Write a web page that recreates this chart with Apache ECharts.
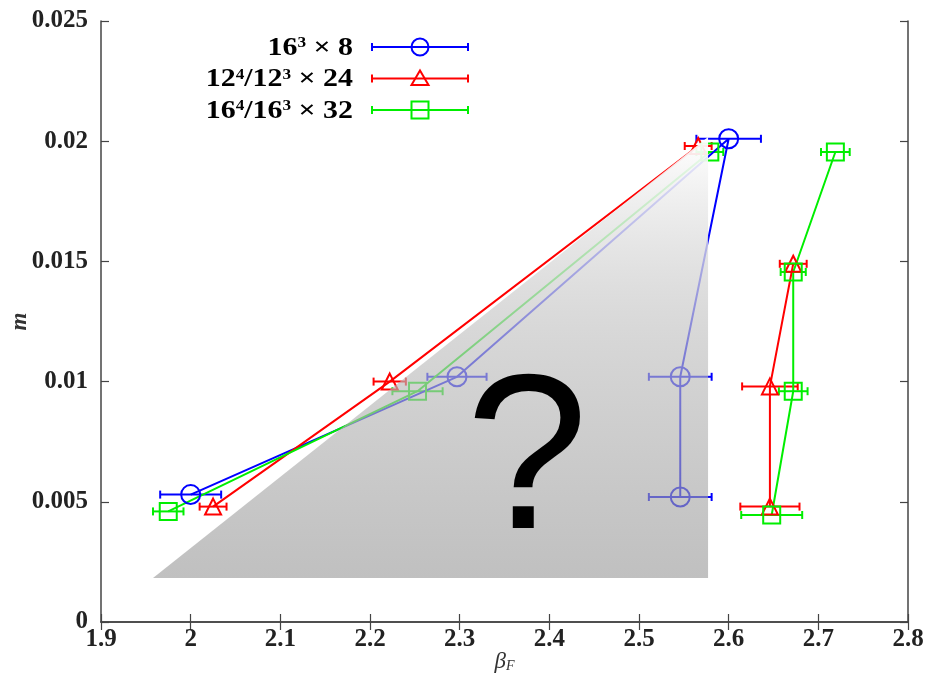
<!DOCTYPE html>
<html>
<head>
<meta charset="utf-8">
<script src="https://cdn.jsdelivr.net/npm/echarts@6/dist/echarts.min.js"></script>
<style>
  html, body { margin: 0; padding: 0; background: #fff; }
  #chart { width: 929px; height: 675px; }
</style>
</head>
<body>
<div id="chart"></div>
<script>
// Transition points m(beta_F) for three lattice sizes, with x-errors on beta_F.
const blueBeta = [2.0, 2.297, 2.6, 2.546, 2.546];
const blueM    = [0.0053, 0.0102, 0.0201, 0.0102, 0.0052];
const blueErr  = [0.034, 0.033, 0.036, 0.035, 0.035];

const redLeftBeta  = [2.025, 2.222, 2.566];
const redLeftM     = [0.0048, 0.0100, 0.0198];
const redLeftErr   = [0.015, 0.018, 0.015];
const redRightBeta = [2.672, 2.646, 2.646];
const redRightM    = [0.0149, 0.0098, 0.0048];
const redRightErr  = [0.015, 0.031, 0.033];

const greenLeftBeta  = [1.975, 2.253, 2.579];
const greenLeftM     = [0.0046, 0.0096, 0.01955];
const greenLeftErr   = [0.017, 0.028, 0.015];
const greenRightBeta = [2.719, 2.672, 2.672, 2.648];
const greenRightM    = [0.01955, 0.01456, 0.0096, 0.00445];
const greenRightErr  = [0.016, 0.014, 0.016, 0.034];

const xRange = [1.9, 2.8, 0.1];
const yRange = [0, 0.025, 0.005];

const BLUE = '#0000ff', RED = '#ff0000', GREEN = '#00ee00';
const SERIF = '"Liberation Serif", "DejaVu Serif", serif';

function pts(b, m) { return b.map((v, i) => [v, m[i]]); }
function errPts(b, m, e) { return b.map((v, i) => [v, m[i], v - e[i], v + e[i]]); }

function errorSeries(data, color) {
  return {
    type: 'custom',
    data: data,
    z: 3,
    encode: { x: [0, 2, 3], y: 1 },
    renderItem: function (params, api) {
      const y = api.value(1);
      const lo = api.coord([api.value(2), y]);
      const hi = api.coord([api.value(3), y]);
      const cap = 4;
      const style = { stroke: color, lineWidth: 2 };
      return {
        type: 'group',
        children: [
          { type: 'line', shape: { x1: lo[0], y1: lo[1], x2: hi[0], y2: hi[1] }, style },
          { type: 'line', shape: { x1: lo[0], y1: lo[1] - cap, x2: lo[0], y2: lo[1] + cap }, style },
          { type: 'line', shape: { x1: hi[0], y1: hi[1] - cap, x2: hi[0], y2: hi[1] + cap }, style }
        ]
      };
    }
  };
}

function lineSeries(data, color, symbol, size) {
  return {
    type: 'line',
    data: data,
    z: 4,
    symbol: symbol,
    symbolSize: size,
    showAllSymbol: true,
    lineStyle: { color: color, width: 2 },
    itemStyle: { color: 'rgba(0,0,0,0)', borderColor: color, borderWidth: 2 },
    emphasis: { disabled: true },
    animation: false
  };
}

const axisLabelStyle = { fontFamily: SERIF, fontWeight: 'bold', fontSize: 25, color: '#222' };
const frame = { lineStyle: { color: '#444', width: 1.5 } };
const innerTick = { show: true, inside: true, length: 8, lineStyle: { color: '#444', width: 1.2 } };

const chart = echarts.init(document.getElementById('chart'), null, { renderer: 'canvas' });

chart.setOption({
  animation: false,
  backgroundColor: '#fff',
  grid: { left: 101, right: 21, top: 21, bottom: 53, containLabel: false, outerBoundsMode: 'none' },
  xAxis: [
    {
      type: 'value', min: xRange[0], max: xRange[1], interval: xRange[2],
      axisLine: frame,
      axisTick: innerTick,
      splitLine: { show: false },
      axisLabel: Object.assign({ margin: 5 }, axisLabelStyle)
    },
    {
      type: 'value', position: 'top', min: xRange[0], max: xRange[1], interval: xRange[2],
      axisLine: frame,
      axisTick: innerTick,
      axisLabel: { show: false }, splitLine: { show: false }
    }
  ],
  yAxis: [
    {
      type: 'value', min: yRange[0], max: yRange[1], interval: yRange[2],
      axisLine: Object.assign({ show: true }, frame),
      axisTick: innerTick,
      splitLine: { show: false },
      axisLabel: Object.assign({ margin: 13 }, axisLabelStyle)
    },
    {
      type: 'value', position: 'right', min: yRange[0], max: yRange[1], interval: yRange[2],
      axisLine: Object.assign({ show: true }, frame),
      axisTick: innerTick,
      axisLabel: { show: false }, splitLine: { show: false }
    }
  ],
  series: [
    errorSeries(errPts(blueBeta, blueM, blueErr), BLUE),
    lineSeries(pts(blueBeta, blueM), BLUE, 'circle', 19),
    errorSeries(errPts(redLeftBeta, redLeftM, redLeftErr), RED),
    errorSeries(errPts(redRightBeta, redRightM, redRightErr), RED),
    lineSeries(pts(redLeftBeta, redLeftM), RED, 'triangle', 16),
    lineSeries(pts(redRightBeta, redRightM), RED, 'triangle', 16),
    errorSeries(errPts(greenLeftBeta, greenLeftM, greenLeftErr), GREEN),
    errorSeries(errPts(greenRightBeta, greenRightM, greenRightErr), GREEN),
    lineSeries(pts(greenLeftBeta, greenLeftM), GREEN, 'rect', 17),
    lineSeries(pts(greenRightBeta, greenRightM), GREEN, 'rect', 17)
  ]
});

const graphics = [];

// Axis titles, centred on the plot frame.
const gridRect = chart.getModel().getComponent('grid').coordinateSystem.getRect();
graphics.push({
  type: 'text', z: 200, x: gridRect.x + gridRect.width / 2, y: 660,
  style: {
    text: '{b|β}{s|F}', align: 'center', verticalAlign: 'middle',
    rich: {
      b: { fontFamily: SERIF, fontStyle: 'italic', fontSize: 23, fill: '#333', lineHeight: 26, verticalAlign: 'bottom' },
      s: { fontFamily: SERIF, fontStyle: 'italic', fontSize: 14, fill: '#333', lineHeight: 26, verticalAlign: 'bottom', padding: [0, 0, 0, 0] }
    }
  }
});
graphics.push({
  type: 'text', z: 200, x: 20, y: gridRect.y + gridRect.height / 2, rotation: Math.PI / 2,
  style: {
    text: 'm', align: 'center', verticalAlign: 'middle',
    fontFamily: SERIF, fontStyle: 'italic', fontWeight: 'bold', fontSize: 23, fill: '#333'
  }
});

// Key: right-aligned labels with an error-bar sample to their right.
const keyRows = [
  { text: '{b|16}{s|3}{b| × 8}', color: BLUE, symbol: 'circle' },
  { text: '{b|12}{s|4}{b|/12}{s|3}{b| × 24}', color: RED, symbol: 'triangle' },
  { text: '{b|16}{s|4}{b|/16}{s|3}{b| × 32}', color: GREEN, symbol: 'rect' }
];
const keyRich = {
  b: { fontFamily: SERIF, fontWeight: 'bold', fontSize: 26, color: '#222', lineHeight: 28, verticalAlign: 'bottom' },
  s: { fontFamily: SERIF, fontWeight: 'bold', fontSize: 15, color: '#222', lineHeight: 28, verticalAlign: 'bottom', padding: [0, 0, 10, 0] }
};

keyRows.forEach((row, i) => {
  const y = 47 + i * 31.5;
  graphics.push({
    type: 'text', x: 353, y: y, z: 200, scaleX: 1.15, originX: 0, originY: 0,
    style: { text: row.text, rich: keyRich, align: 'right', verticalAlign: 'middle' }
  });
  const st = { stroke: row.color, lineWidth: 2, fill: null };
  graphics.push({ type: 'line', z: 200, shape: { x1: 372, y1: y, x2: 468, y2: y }, style: st });
  graphics.push({ type: 'line', z: 200, shape: { x1: 372, y1: y - 4, x2: 372, y2: y + 4 }, style: st });
  graphics.push({ type: 'line', z: 200, shape: { x1: 468, y1: y - 4, x2: 468, y2: y + 4 }, style: st });
  if (row.symbol === 'circle') {
    graphics.push({ type: 'circle', z: 200, shape: { cx: 420, cy: y, r: 8.5 }, style: st });
  } else if (row.symbol === 'triangle') {
    graphics.push({ type: 'polygon', z: 200, shape: { points: [[420, y - 8], [428.5, y + 6.5], [411.5, y + 6.5]] }, style: st });
  } else {
    graphics.push({ type: 'rect', z: 200, shape: { x: 411.5, y: y - 8.5, width: 17, height: 17 }, style: st });
  }
});

// Shaded wedge with a question mark laid over part of the plot.
const wedgeCorners = [[1.958, 0.00183], [2.577, 0.00183], [2.577, 0.02017]];
const wedgePx = wedgeCorners.map(p => chart.convertToPixel({ xAxisIndex: 0, yAxisIndex: 0 }, p));
const wedgeTop = wedgePx[2][1], wedgeBottom = wedgePx[0][1];
graphics.push({
  type: 'polygon', z: 100,
  shape: { points: wedgePx },
  style: {
    fill: {
      type: 'linear', x: 0, y: wedgeTop, x2: 0, y2: wedgeBottom, global: true,
      colorStops: [
        { offset: 0, color: 'rgba(255,255,255,0.95)' },
        { offset: 0.5, color: 'rgba(190,190,190,0.65)' },
        { offset: 1, color: 'rgba(150,150,150,0.6)' }
      ]
    },
    stroke: null
  }
});
// Question mark, its glyph baseline set near m = 0.0038
const qPos = chart.convertToPixel({ xAxisIndex: 0, yAxisIndex: 0 }, [2.375, 0.0038]);
graphics.push({
  type: 'text', z: 150, x: qPos[0], y: qPos[1] + 47,
  style: {
    text: '?', fontFamily: '"Liberation Sans", Arial, sans-serif', fontSize: 220,
    fill: '#000', align: 'center', verticalAlign: 'bottom'
  }
});

chart.setOption({ graphic: graphics });
</script>
</body>
</html>
